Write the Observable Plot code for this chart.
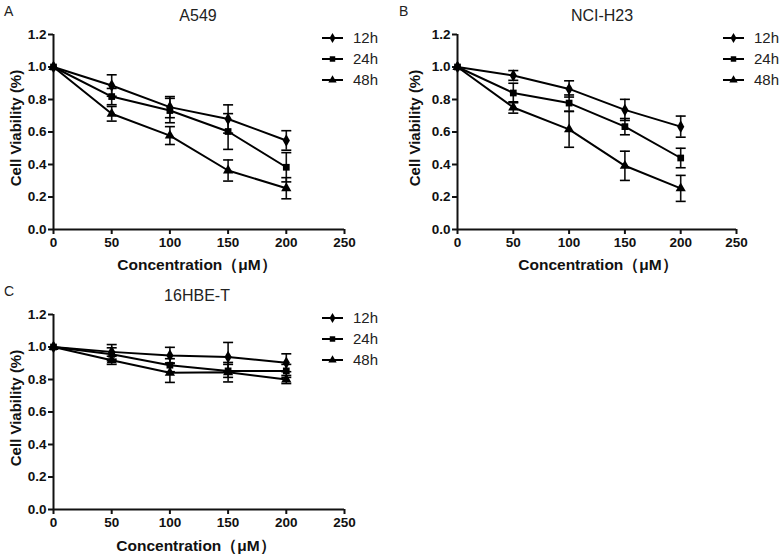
<!DOCTYPE html>
<html><head><meta charset="utf-8">
<script src="https://cdn.jsdelivr.net/npm/d3@7"></script>
<script src="https://cdn.jsdelivr.net/npm/@observablehq/plot@0.6"></script>
<style>
body{margin:0;background:#fff;}
#wrap{position:relative;width:784px;height:559px;overflow:hidden;background:#fff;font-family:"Liberation Sans",Arial,sans-serif;}
.abs{position:absolute;white-space:nowrap;}
.ttl{font-size:16px;color:#222;transform:translateX(-50%);}
.let{font-size:14px;color:#222;}
.xt{font-size:15.5px;font-weight:bold;color:#111;transform:translateX(-50%);}
.yt{font-size:15px;font-weight:bold;color:#111;transform:translate(-50%,-50%) rotate(-90deg);}
.lg{font-size:15px;color:#222;line-height:18px;}
</style></head>
<body><div id="wrap"></div>
<script>
const conc = [0, 50, 100, 150, 200];
const seriesNames = ["12h", "24h", "48h"];
const xTicks = [0, 50, 100, 150, 200, 250];
const yTicks = [0, 0.2, 0.4, 0.6, 0.8, 1.0, 1.2];

// A549
const a549_12h = [1.0, 0.886, 0.753, 0.68, 0.548];
const a549_12h_err = [0.0, 0.066, 0.065, 0.087, 0.06];
const a549_24h = [1.0, 0.818, 0.732, 0.603, 0.383];
const a549_24h_err = [0.0, 0.05, 0.075, 0.11, 0.09];
const a549_48h = [1.0, 0.712, 0.578, 0.363, 0.254];
const a549_48h_err = [0.0, 0.045, 0.055, 0.065, 0.065];

// NCI-H23
const h23_12h = [1.0, 0.948, 0.865, 0.736, 0.633];
const h23_12h_err = [0.0, 0.03, 0.05, 0.065, 0.065];
const h23_24h = [1.0, 0.84, 0.778, 0.633, 0.44];
const h23_24h_err = [0.0, 0.06, 0.05, 0.05, 0.06];
const h23_48h = [1.0, 0.751, 0.616, 0.392, 0.253];
const h23_48h_err = [0.0, 0.035, 0.11, 0.09, 0.08];

// 16HBE-T
const hbe_12h = [1.0, 0.97, 0.948, 0.938, 0.903];
const hbe_12h_err = [0.0, 0.045, 0.05, 0.09, 0.055];
const hbe_24h = [1.0, 0.955, 0.888, 0.853, 0.853];
const hbe_24h_err = [0.0, 0.04, 0.04, 0.04, 0.04];
const hbe_48h = [1.0, 0.918, 0.842, 0.845, 0.80];
const hbe_48h_err = [0.0, 0.025, 0.06, 0.06, 0.025];

const symbolTypes = ["diamond", "square", "triangle"];
const capSymbol = {draw(ctx, size) { ctx.moveTo(-5, 0); ctx.lineTo(5, 0); }};

function rowsOf(vals, errs) {
  const out = [];
  vals.forEach((v, si) => conc.forEach((c, i) => {
    out.push({series: seriesNames[si], x: c, y: v[i], lo: v[i] - errs[si][i], hi: v[i] + errs[si][i]});
  }));
  return out;
}

const wrap = document.getElementById("wrap");
function addText(cls, text, left, top) {
  const d = document.createElement("div");
  d.className = "abs " + cls; d.textContent = text;
  d.style.left = left + "px"; d.style.top = top + "px";
  wrap.appendChild(d);
}

function legend(left, top) {
  const d = document.createElement("div");
  d.className = "abs"; d.style.left = left + "px"; d.style.top = top + "px";
  const svg = d3.create("svg").attr("width", 24).attr("height", 56);
  seriesNames.forEach((s, i) => {
    const y = 6 + i * 21;
    const g = svg.append("g").attr("transform", `translate(0,${y})`);
    g.append("line").attr("x1", 0).attr("x2", 21).attr("stroke", "black").attr("stroke-width", 2);
    g.append("path").attr("transform", "translate(10.5,0)")
      .attr("d", d3.symbol(d3["symbol" + symbolTypes[i][0].toUpperCase() + symbolTypes[i].slice(1)], 30)());
    addText("lg", s, left + 31, top + y - 9);
  });
  d.appendChild(svg.node());
  wrap.appendChild(d);
}

function panel(rows, o) {
  const chart = Plot.plot({
    width: o.w, height: o.h,
    marginLeft: o.mL, marginRight: o.mR, marginTop: o.mT, marginBottom: o.mB,
    x: {domain: [0, 250]},
    y: {domain: [0, 1.2]},
    symbol: {domain: seriesNames, range: symbolTypes},
    style: {fontFamily: "Liberation Sans, Arial, sans-serif", fontSize: "13.5px", fontWeight: "bold", color: "#111", background: "transparent", overflow: "visible"},
    marks: [
      Plot.axisX({ticks: xTicks, tickSize: 5, tickPadding: 3, strokeWidth: 2, label: null}),
      Plot.axisY({ticks: yTicks, tickFormat: d3.format(".1f"), tickSize: 5, tickPadding: 2, strokeWidth: 2, label: null}),
      Plot.ruleX([0], {strokeWidth: 2}),
      Plot.ruleY([0], {strokeWidth: 2}),
      Plot.ruleX(rows.filter(d => d.hi > d.lo), {x: "x", y1: "lo", y2: "hi", strokeWidth: 1.6}),
      Plot.dot(rows.filter(d => d.hi > d.lo), {x: "x", y: "lo", symbol: capSymbol, stroke: "black", strokeWidth: 1.6}),
      Plot.dot(rows.filter(d => d.hi > d.lo), {x: "x", y: "hi", symbol: capSymbol, stroke: "black", strokeWidth: 1.6}),
      Plot.line(rows, {x: "x", y: "y", z: "series", stroke: "black", strokeWidth: 2}),
      Plot.dot(rows, {x: "x", y: "y", symbol: "series", fill: "black", r: 3.8})
    ]
  });
  const d = document.createElement("div");
  d.className = "abs"; d.style.left = o.left + "px"; d.style.top = o.top + "px";
  d.appendChild(chart);
  wrap.appendChild(d);
}

panel(rowsOf([a549_12h, a549_24h, a549_48h], [a549_12h_err, a549_24h_err, a549_48h_err]),
  {left: 0, top: 0, w: 392, h: 280, mL: 53, mR: 48, mT: 34, mB: 51});
panel(rowsOf([h23_12h, h23_24h, h23_48h], [h23_12h_err, h23_24h_err, h23_48h_err]),
  {left: 392, top: 0, w: 392, h: 280, mL: 65, mR: 48, mT: 34, mB: 51});
panel(rowsOf([hbe_12h, hbe_24h, hbe_48h], [hbe_12h_err, hbe_24h_err, hbe_48h_err]),
  {left: 0, top: 280, w: 392, h: 279, mL: 53, mR: 48, mT: 34, mB: 50});

addText("let", "A", 4, 3);
addText("let", "B", 399, 3);
addText("let", "C", 4, 283);
addText("ttl", "A549", 198, 7);
addText("ttl", "NCI-H23", 602, 7);
addText("ttl", "16HBE-T", 197, 287);
addText("xt", "Concentration（μM）", 197, 255);
addText("xt", "Concentration（μM）", 598, 255);
addText("xt", "Concentration（μM）", 196, 536);
addText("yt", "Cell Viability (%)", 15, 128);
addText("yt", "Cell Viability (%)", 414, 128);
addText("yt", "Cell Viability (%)", 15, 408);
legend(322, 32);
legend(723, 32);
legend(322, 312);
</script></body></html>
